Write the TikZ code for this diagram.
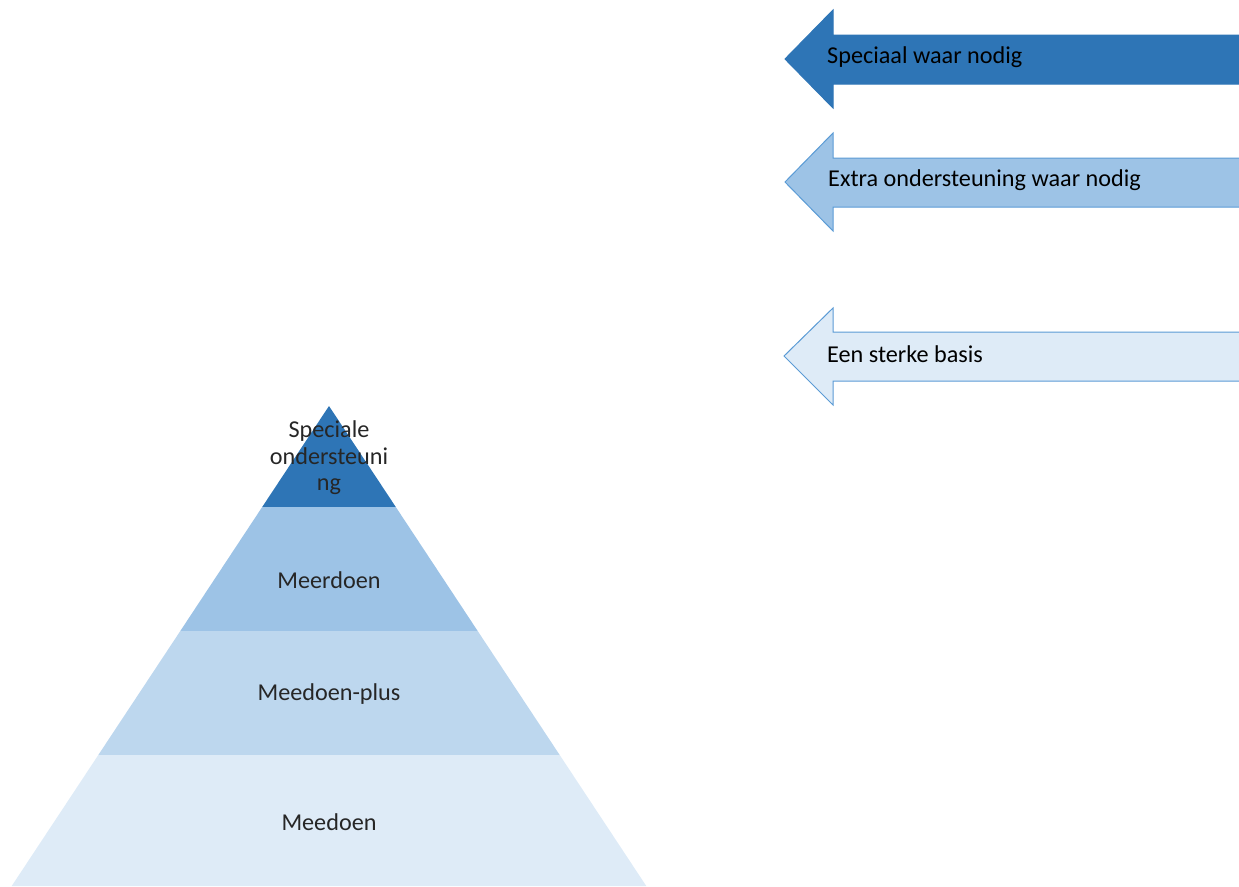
\documentclass[tikz,border=0pt]{standalone}
\usepackage{fontspec}
\setmainfont{Carlito}
\definecolor{bDark}{HTML}{2E75B6}
\definecolor{bMid}{HTML}{9DC3E6}
\definecolor{bLight}{HTML}{BDD7EE}
\definecolor{bPale}{HTML}{DEEBF7}
\definecolor{bEdge}{HTML}{5B9BD5}
\definecolor{txtGray}{HTML}{262626}
\tikzset{
  lbl/.style={font=\fontsize{24.2}{26.5}\selectfont, inner sep=0pt},
  pyrtext/.style={lbl, text=txtGray, align=center},
  arrtext/.style={lbl, text=black, anchor=west},
  arrowshape/.style={draw=bEdge, line width=1pt, line join=miter}
}
\begin{document}
\begin{tikzpicture}[x=1pt,y=-1pt]
\useasboundingbox (0,0) rectangle (1239,886);
% pyramid bands
\fill[bDark]  (329,406) -- (395.8,507) -- (262.2,507) -- cycle;
\fill[bMid]   (262.2,507) -- (395.8,507) -- (477.7,631) -- (180.3,631) -- cycle;
\fill[bLight] (180.3,631) -- (477.7,631) -- (559.7,755) -- (98.3,755) -- cycle;
\fill[bPale]  (98.3,755) -- (559.7,755) -- (646.3,886) -- (11.7,886) -- cycle;
\node[pyrtext] (spec) at (329,458) {Speciale\\ondersteuni\\ng};
\node[pyrtext] (meer) at (329,580) {Meerdoen};
\node[pyrtext] (plus) at (329,694) {Meedoen-plus};
\node[pyrtext] (mee)  at (329,822) {Meedoen};
% arrows
\path[arrowshape, fill=bDark, draw=bDark] (1240,35) -- (833,35) -- (833,10) -- (785,59) -- (833,108) -- (833,84) -- (1240,84);
\path[arrowshape, fill=bMid] (1240,158) -- (833,158) -- (833,133) -- (785,182) -- (833,231) -- (833,207) -- (1240,207);
\path[arrowshape, fill=bPale] (1240,332) -- (833,332) -- (833,308) -- (784,356) -- (833,405) -- (833,381) -- (1240,381);
\node[arrtext] (a1) at (827,57) {Speciaal waar nodig};
\node[arrtext] (a2) at (828,180) {Extra ondersteuning waar nodig};
\node[arrtext] (a3) at (827,354) {Een sterke basis};
\end{tikzpicture}
\end{document}
